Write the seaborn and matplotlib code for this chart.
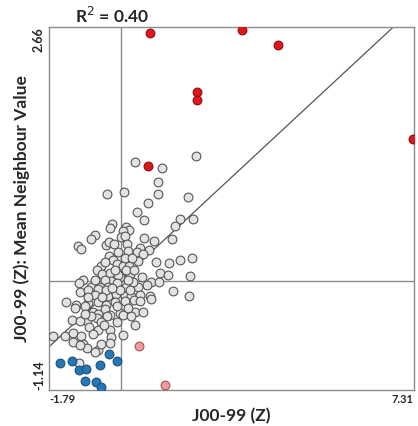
import numpy as np
import pandas as pd
import matplotlib
matplotlib.use("Agg")
import matplotlib.pyplot as plt
import seaborn as sns

# ---- data (z-scores) ----
grey_x = [1.88, 0.35, 1.03, 0.93, -0.35, 0.08, 0.93, 0.68, 1.68, 0.41, 0.59, 1.48, 1.81, 1.35,
          -0.21, -0.28, 0.13, 0.20, 0.06, 0.01, 0.10, -0.64, -0.74, -1.07, -0.99, -0.38, -0.29,
          -0.17, 0.16, 0.59, 0.84, 1.27, 0.17, 0.48, 0.70, 0.40, 0.56, -0.29, -0.19, -0.50,
          -0.10, 0.05, 0.21, 0.42, 0.89, 1.20, 1.48, 1.78, -0.60, -0.47, -0.27, -0.02, 0.23,
          0.53, 0.98, 1.18, 1.72, -0.07, -0.07, 0.10, 0.28, -0.14, -0.39,
          -0.94, -1.03, -0.75, -0.52, -0.24, 0.13, 0.44, 0.75, 0.95, -0.40, -0.32, -0.10, 0.65,
          0.30, 1.29, 1.71, -1.02, -0.82, -0.57, -0.65, -0.32, -0.11, 0.10, 0.25, 0.48, 0.73,
          -1.37, -1.11, -0.82, -0.57, -0.36, -0.15, 0.10, 0.33, 0.48, 0.75, -1.14, -0.89, -0.69,
          -0.39, -0.02, 0.35, 0.56, -0.57, -0.27, 0.05, -1.22, -0.85, -0.60, -0.35, -0.10, 0.35,
          -0.49, -1.02, -0.79, -0.56, -0.27, -0.69, 0.05, -1.68, -1.39, -1.19, -0.99, -0.24,
          -1.18, -0.94, -0.27, -0.85, -0.56, -0.64, -0.49, -1.02, -1.04, 0.25, 0.13, 0.33, -0.37,
          -0.02, -0.22, 0.18, -0.64, -0.47, 0.23, -0.82, -0.09, 0.18, -0.74, -0.89, -0.42]
grey_y = [1.31, 1.25, 1.18, 1.04, 0.91, 0.93, 0.91, 0.82, 0.88, 0.72, 0.64, 0.65, 0.65, 0.58,
          0.60, 0.56, 0.57, 0.53, 0.52, 0.46, 0.47, 0.48, 0.44, 0.37, 0.34, 0.38, 0.41,
          0.39, 0.39, 0.45, 0.42, 0.44, 0.32, 0.35, 0.33, 0.30, 0.28, 0.26, 0.22, 0.16,
          0.18, 0.16, 0.16, 0.21, 0.20, 0.19, 0.22, 0.24, 0.12, 0.07, 0.09, 0.04, 0.07,
          0.04, 0.08, 0.06, 0.05, 0.06, 0.30, 0.24, 0.24, 0.12, 0.20,
          0.01, -0.02, -0.06, -0.06, 0.00, -0.06, -0.06, -0.01, -0.01, 0.01, -0.06, -0.02, -0.04,
          -0.01, -0.10, -0.16, -0.11, -0.09, -0.08, -0.15, -0.16, -0.13, -0.16, -0.16, -0.15, -0.16,
          -0.22, -0.25, -0.23, -0.22, -0.25, -0.22, -0.21, -0.20, -0.21, -0.19, -0.28, -0.26, -0.32,
          -0.29, -0.33, -0.32, -0.32, -0.34, -0.35, -0.36, -0.41, -0.42, -0.39, -0.37, -0.43, -0.46,
          -0.43, -0.42, -0.48, -0.51, -0.51, -0.55, -0.56, -0.57, -0.57, -0.54, -0.57, -0.58,
          -0.64, -0.66, -0.65, -0.70, -0.72, -0.74, -0.66, -0.67, -0.86, -0.37, 0.12, 0.12, -0.09,
          -0.09, -0.07, 0.01, 0.01, -0.17, -0.09, -0.17, -0.26, -0.28, -0.37, -0.34, -0.46]
red_x = [0.73, 3.01, 3.92, 1.90, 1.90, 7.28, 0.69]
red_y = [2.60, 2.63, 2.47, 1.98, 1.90, 1.49, 1.21]
pink_x = [0.46, 1.09]
pink_y = [-0.68, -1.09]
blue_x = [-1.52, -1.22, -1.04, -0.87, -0.53, -0.29, -0.10, -0.89, -0.61, -0.49]
blue_y = [-0.86, -0.84, -0.93, -0.92, -0.88, -0.76, -0.84, -1.05, -1.06, -1.11]

x_limits = [-1.79, 7.31]
y_limits = [-1.14, 2.66]
slope = 0.39
intercept = 0.01
r2_text = "R$^2$ = 0.40"
x_label = "J00-99 (Z)"
y_label = "J00-99 (Z): Mean Neighbour Value"

df = pd.concat([
    pd.DataFrame({"x": grey_x, "y": grey_y, "cls": "ns"}),
    pd.DataFrame({"x": blue_x, "y": blue_y, "cls": "LL"}),
    pd.DataFrame({"x": pink_x, "y": pink_y, "cls": "HL"}),
    pd.DataFrame({"x": red_x, "y": red_y, "cls": "HH"}),
], ignore_index=True)

palette = {"ns": "#e3e3e3", "LL": "#2677b8", "HL": "#f39a9a", "HH": "#e3141c"}
edges = {"ns": "#555555", "LL": "#1d4f7a", "HL": "#9a5a5a", "HH": "#8a1010"}

sns.set_style("white")
plt.rcParams["font.family"] = ["Lato", "DejaVu Sans"]

fig = plt.figure(figsize=(4.18, 4.26), dpi=100)
ax = fig.add_axes([49 / 418, 36 / 426, 365 / 418, 363 / 426])

ax.axvline(0, color="#8c8c8c", lw=1.0, zorder=1)
ax.axhline(0, color="#8c8c8c", lw=1.0, zorder=1)
ax.axline((0, intercept), slope=slope, color="#555555", lw=0.9, zorder=1)

for cls in ["ns", "LL", "HL", "HH"]:
    sub = df[df["cls"] == cls]
    sns.scatterplot(data=sub, x="x", y="y", color=palette[cls], edgecolor=edges[cls],
                    linewidth=0.8, s=40, ax=ax, zorder=3, legend=False)

ax.set_xlim(*x_limits)
ax.set_ylim(*y_limits)
ax.set_xticks(x_limits)
ax.set_xticklabels([f"{v:.2f}" for v in x_limits], fontsize=8, fontweight="bold")
ax.set_yticks(y_limits)
ax.set_yticklabels([f"{v:.2f}" for v in y_limits], fontsize=9, fontweight="bold", rotation=90)
xt = ax.get_xticklabels()
xt[0].set_ha("left")
xt[1].set_ha("right")
yt = ax.get_yticklabels()
yt[0].set_va("bottom")
yt[1].set_va("top")
ax.tick_params(axis="both", length=0, pad=3)

for s in ax.spines.values():
    s.set_color("#8c8c8c")
    s.set_linewidth(1.0)

ax.set_xlabel(x_label, fontsize=12.5, fontweight="bold", labelpad=2)
ax.set_ylabel(y_label, fontsize=12.5, fontweight="bold", labelpad=2)
fig.text(112 / 418, 1 - 16 / 426, r2_text, fontsize=12.5, fontweight="bold",
         ha="center", va="center")

fig.savefig("out.png", dpi=100)
